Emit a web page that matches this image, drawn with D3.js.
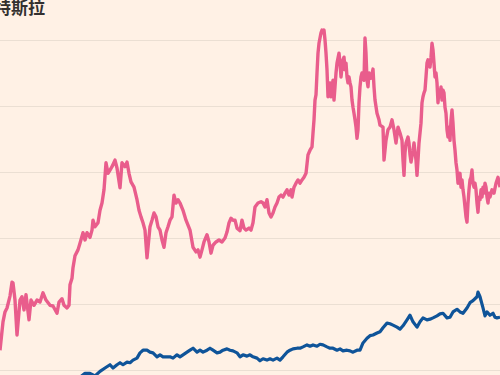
<!DOCTYPE html>
<html>
<head>
<meta charset="utf-8">
<script src="https://cdn.jsdelivr.net/npm/d3@7"></script>
<style>
  body { margin: 0; background: #fff1e5; }
  svg { display: block; }
</style>
</head>
<body>
<div id="chart"></div>
<script>
// day index (x) and price index (y)
var title = "特斯拉";
var gridValues = [0, 100, 200, 300, 400, 500];

var teslaDays = [0,3,5,7,10,12,13,15,17,20,22,24,26,29,31,34,37,40,43,46,50,53,57,59,62,64,67,69,70,72,73,75,78,80,83,85,87,90,92,93,95,98,100,102,104,106,108,110,112,115,117,120,122,125,127,129,131,134,137,139,141,143,145,147,150,152,154,156,158,160,162,164,166,168,170,172,174,176,178,180,183,186,190,193,196,198,200,202,204,207,209,211,213,216,219,222,225,227,229,231,233,235,237,240,242,244,246,249,251,253,255,258,261,263,265,267,269,271,273,275,277,279,281,283,285,287,289,291,292,294,296,298,300,302,304,306,308,310,312,313,314,315,316,317,318,319,320,321,322,323,324,325,326,327,328,329,330,331,333,334,335,336,337,339,340,341,342,343,344,345,346,347,348,349,350,351,352,353,354,355,356,357,358,359,360,361,362,363,364,365,366,367,368,369,371,373,374,375,377,379,380,383,384,386,388,390,392,394,396,398,400,402,403,404,405,406,408,409,410,411,413,414,416,417,418,419,421,422,423,424,425,426,427,428,429,430,431,432,433,434,435,436,437,438,439,440,441,442,443,444,445,446,447,448,449,450,451,452,453,454,455,456,457,458,459,460,461,462,463,464,465,466,467,468,469,470,471,472,473,474,475,476,477,478,479,480,481,482,483,484,485,486,487,488,489,490,492,494,496,498,500];
var teslaValues = [30,73,88,94,112,133,132,106,53,106,111,91,114,76,106,98,106,103,117,106,98,97,86,103,108,98,94,98,129,139,155,173,182,192,208,197,208,201,212,227,217,223,242,253,273,314,298,303,308,318,306,276,314,308,315,298,285,277,258,242,232,223,212,170,217,227,238,232,217,212,197,186,208,217,227,232,265,253,258,253,242,227,212,186,179,182,171,182,194,205,194,177,189,194,197,194,200,209,223,230,227,227,215,211,227,215,212,215,212,223,247,253,255,253,247,258,238,232,238,247,253,262,265,262,268,273,265,273,262,277,283,288,283,288,292,298,326,333,338,359,379,409,417,450,480,495,503,511,515,511,515,500,480,455,414,429,435,414,439,409,429,450,465,480,465,444,459,470,474,455,465,444,435,444,435,429,409,398,389,379,368,351,364,405,429,444,450,444,439,503,480,439,429,450,442,456,429,409,389,379,371,368,318,348,364,368,379,364,344,368,359,348,318,295,329,344,353,344,326,315,333,344,318,295,318,344,374,405,414,420,424,444,465,470,465,459,474,495,485,465,444,450,435,405,424,414,429,409,424,420,398,389,364,353,368,348,379,394,374,348,333,314,303,283,292,298,277,288,273,262,247,232,224,253,273,288,292,303,283,277,283,273,253,239,262,258,273,262,277,268,283,277,262,253,268,262,273,268,283,292,277];

var benchDays = [0,20,40,60,80,85,90,95,100,105,110,113,117,120,123,127,130,133,137,140,143,147,150,153,157,160,163,167,170,173,177,180,183,187,190,193,197,200,203,207,210,213,217,220,223,227,230,233,237,240,243,247,250,253,257,260,263,267,270,273,277,280,283,287,290,293,297,300,303,307,310,313,317,320,323,327,330,333,337,340,343,347,350,353,357,360,363,367,370,373,377,380,383,387,390,393,397,400,403,407,410,413,417,420,423,427,430,433,437,440,443,447,450,453,457,460,463,467,470,473,477,478,480,483,485,487,490,493,495,497,500];
var benchValues = [-15,-14,-15,-12,-11,-5,-5,-9,-2,3,8,3,8,11,8,12,11,15,18,26,30,30,27,26,20,23,20,20,20,18,23,20,23,27,30,33,27,30,27,30,33,30,26,27,30,32,30,29,26,20,23,21,23,20,18,14,17,15,17,15,18,15,20,27,30,32,33,33,35,38,36,38,36,39,38,35,33,33,30,32,29,30,29,27,30,30,41,48,52,53,56,58,64,71,70,68,65,62,67,76,83,73,65,73,79,76,77,79,82,85,86,79,80,88,92,88,86,94,102,105,111,118,111,94,82,88,83,86,80,79,80];

var width = 500, height = 375;

var x = d3.scaleLinear().domain([0, 500]).range([0, width]);
var y = d3.scaleLinear().domain([0, 500]).range([370, 40]);

var svg = d3.select('#chart')
  .append('svg')
    .attr('width', width)
    .attr('height', height);

svg.append('rect')
  .attr('width', width)
  .attr('height', height)
  .attr('fill', '#fff1e5');

// horizontal grid lines
svg.append('g')
  .call(d3.axisLeft(y).tickValues(gridValues).tickSize(-width).tickFormat(''))
  .call(function (g) {
    g.select('.domain').remove();
    g.selectAll('.tick line').attr('stroke', '#ebdfd3').attr('stroke-width', 1);
  });

var line = d3.line()
  .x(function (d) { return x(d[0]); })
  .y(function (d) { return y(d[1]); });

var bench = d3.zip(benchDays, benchValues);
var tesla = d3.zip(teslaDays, teslaValues);

svg.append('path')
  .datum(bench)
  .attr('fill', 'none')
  .attr('stroke', '#0f5499')
  .attr('stroke-width', 3.2)
  .attr('stroke-linejoin', 'round')
  .attr('d', line);

svg.append('path')
  .datum(tesla)
  .attr('fill', 'none')
  .attr('stroke', '#e95d8c')
  .attr('stroke-width', 3.4)
  .attr('stroke-linejoin', 'round')
  .attr('d', line);

// title sits partly past the left edge, as in the source crop
svg.append('text')
  .attr('x', -6)
  .attr('y', 14)
  .attr('font-family', '"Noto Sans CJK SC", sans-serif')
  .attr('font-weight', 'bold')
  .attr('font-size', 17)
  .attr('fill', '#33302e')
  .text(title);
</script>
</body>
</html>
